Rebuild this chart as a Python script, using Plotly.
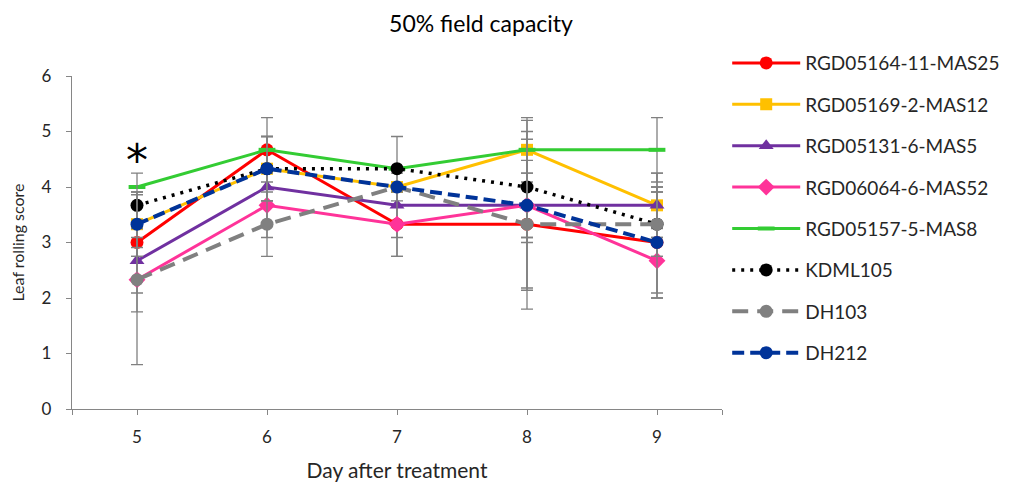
import plotly.graph_objects as go

days = [5, 6, 7, 8, 9]
series_names = ["RGD05164-11-MAS25", "RGD05169-2-MAS12", "RGD05131-6-MAS5",
                "RGD06064-6-MAS52", "RGD05157-5-MAS8", "KDML105", "DH103", "DH212"]

red_vals = [3.0, 4.67, 3.33, 3.33, 3.0]
yellow_vals = [3.33, 4.33, 4.0, 4.67, 3.67]
purple_vals = [2.67, 4.0, 3.67, 3.67, 3.67]
pink_vals = [2.33, 3.67, 3.33, 3.67, 2.67]
green_vals = [4.0, 4.67, 4.33, 4.67, 4.67]
kdml_vals = [3.67, 4.33, 4.33, 4.0, 3.33]
dh103_vals = [2.33, 3.33, 4.0, 3.33, 3.33]
dh212_vals = [3.33, 4.33, 4.0, 3.67, 3.0]

red_err = [0, 0.58, 0.58, 1.15, 1.0]
yellow_err = [0.58, 0.58, 0, 0.58, 0.58]
purple_err = [0.58, 0.67, 0.58, 0.58, 0.58]
pink_err = [0.58, 0.58, 0.58, 1.53, 0.58]
green_err = [0, 0, 0, 0, 0.58]
kdml_err = [0.58, 0.58, 0.58, 1.0, 0.58]
dh103_err = [1.53, 0.58, 0, 1.53, 0.58]
dh212_err = [0.58, 0.58, 0, 0.58, 1.0]

all_vals = [red_vals, yellow_vals, purple_vals, pink_vals, green_vals, kdml_vals, dh103_vals, dh212_vals]
all_err = [red_err, yellow_err, purple_err, pink_err, green_err, kdml_err, dh103_err, dh212_err]

colors = ["#ff0000", "#ffc000", "#7030a0", "#ff3399", "#33cc33", "#000000", "#808080", "#003399"]
dashes = ["solid", "solid", "solid", "solid", "solid", "3px,6px", "16px,9px", "12px,6px"]
symbols = ["circle", "square", "triangle-up", "diamond", "line-ew-open", "circle", "circle", "circle"]
msizes = [13, 12, 13, 13, 12, 13, 13, 13]
lwidths = [3, 3, 3, 3, 3, 3.5, 4, 4]

FONT = "Lato, Carlito, Calibri, sans-serif"
OFF = 8  # default page body margin offset

fig = go.Figure()
for i, name in enumerate(series_names):
    marker = dict(symbol=symbols[i], size=msizes[i], color=colors[i])
    if symbols[i].startswith("line"):
        marker["line"] = dict(color=colors[i], width=4)
    fig.add_trace(go.Scatter(
        x=days, y=all_vals[i], name=name, mode="lines+markers",
        line=dict(color=colors[i], width=lwidths[i], dash=dashes[i]),
        marker=marker, legendgroup=name,
        error_y=dict(type="data", array=all_err[i], visible=True,
                     color="#808080", thickness=1.3, width=6),
    ))

fig.add_annotation(x=5, y=4.47, text="*", showarrow=False,
                   font=dict(size=44, color="#000000", family="DejaVu Sans"))

fig.update_layout(
    width=1010, height=485,
    margin=dict(l=72 - OFF, r=288 + OFF, t=76 - OFF, b=76 + OFF, autoexpand=False),
    paper_bgcolor="white", plot_bgcolor="white",
    font=dict(family=FONT, color="#262626"),
    title=dict(text="50% field capacity", x=(481 - OFF) / 1010, xref="container",
               y=1 - 16 / 485, yref="container", xanchor="center", yanchor="middle",
               pad=dict(t=0, b=0, l=0, r=0),
               font=dict(size=23, family=FONT, color="#000000")),
    xaxis=dict(range=[4.5, 9.5], tickvals=[4.5, 5, 6, 7, 8, 9, 9.5],
               ticktext=["", "5", "6", "7", "8", "9", ""],
               showline=True, linecolor="#868686", linewidth=1.3,
               ticks="outside", ticklen=5, tickcolor="#868686",
               ticklabelstandoff=7,
               showgrid=False, zeroline=False,
               tickfont=dict(size=17, family=FONT, color="#262626"),
               title=dict(text="Day after treatment", standoff=17,
                          font=dict(size=21, family=FONT, color="#262626"))),
    yaxis=dict(range=[0, 6], dtick=1, showline=True, linecolor="#868686", linewidth=1.3,
               ticks="outside", ticklen=5, tickcolor="#868686",
               ticklabelstandoff=11,
               showgrid=False, zeroline=False,
               tickfont=dict(size=17, family=FONT, color="#262626"),
               title=dict(text="Leaf rolling score", standoff=15,
                          font=dict(size=16, family=FONT, color="#262626"))),
    legend=dict(x=1.008, y=1.096, xanchor="left", yanchor="top",
                traceorder="grouped", tracegroupgap=13.7, itemwidth=68,
                maxheight=470,
                font=dict(size=19, family=FONT, color="#262626"),
                bgcolor="rgba(0,0,0,0)"),
)

fig.write_html("out.html")
